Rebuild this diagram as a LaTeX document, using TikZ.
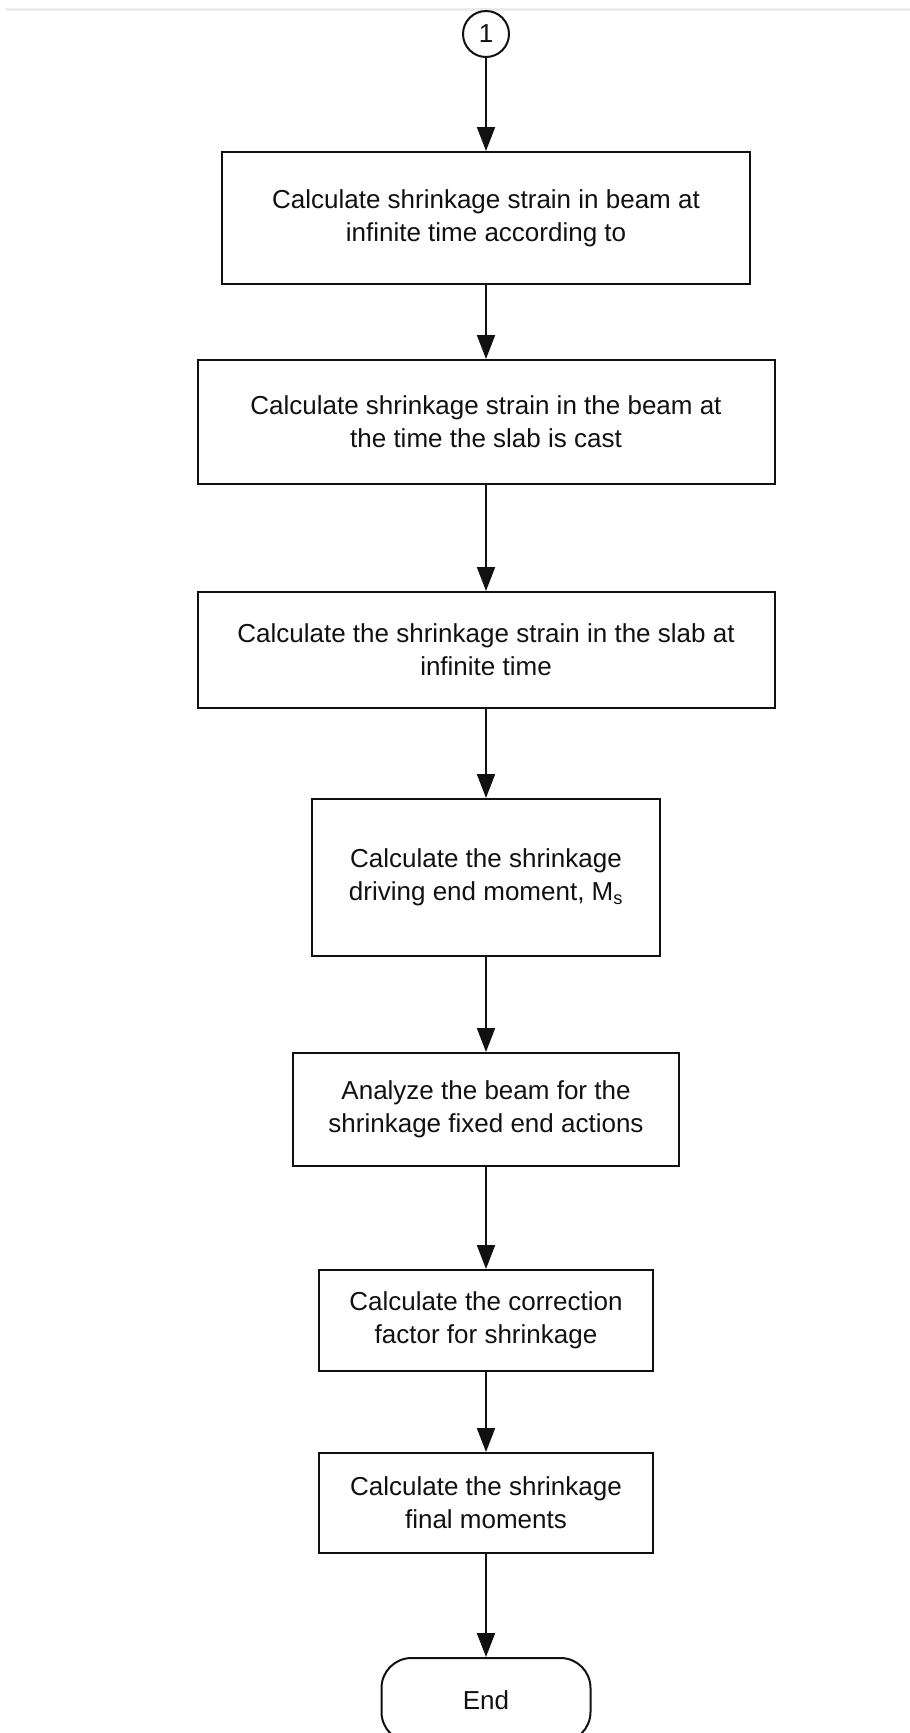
\documentclass[tikz,border=0pt]{standalone}
\usepackage{fontspec}
\setmainfont{Liberation Sans}
\usepackage{xcolor}
\usepackage{tikz}
\usetikzlibrary{arrows.meta,shapes.geometric}
\definecolor{fcInk}{HTML}{111111}
\definecolor{fcRule}{HTML}{EBEBEB}
\tikzset{
  fc diagram/.style={x=1pt, y=-1pt, font=\fontsize{26}{33}\selectfont,
    text=fcInk, line join=miter},
  fc box/.style={draw=fcInk, fill=white, line width=2pt,
    rectangle, align=center, inner sep=4pt},
  fc connector/.style={fc box, circle, minimum size=46pt, inner sep=0pt},
  fc end/.style={fc box, rounded corners=30pt},
  fc arrow/.style={-{Triangle[length=24pt, width=18pt]}, draw=fcInk,
    line width=2pt},
  fc rule/.style={draw=fcRule, line width=3pt}
}

\begin{document}
\begin{tikzpicture}[fc diagram]
\useasboundingbox (0,0) rectangle (910,1733);
\draw[fc rule] (6,9.5) -- (910,9.5);
\node[fc connector] (c1) at (486,34) {1};
\node[fc box, minimum width=528pt, minimum height=132pt] (b1) at (486,218)
  {Calculate shrinkage strain in beam at\\infinite time according to};
\node[fc box, minimum width=577pt, minimum height=124pt] (b2) at (486,422)
  {Calculate shrinkage strain in the beam at\\the time the slab is cast};
\node[fc box, minimum width=577pt, minimum height=116pt] (b3) at (486,650)
  {Calculate the shrinkage strain in the slab at\\infinite time};
\node[fc box, minimum width=348pt, minimum height=157pt] (b4) at (486,877.5)
  {Calculate the shrinkage\\driving end moment, M\textsubscript{s}};
\node[fc box, minimum width=386pt, minimum height=113pt] (b5) at (486,1109.5)
  {Analyze the beam for the\\shrinkage fixed end actions};
\node[fc box, minimum width=334pt, minimum height=101pt] (b6) at (486,1320.5)
  {Calculate the correction\\factor for shrinkage};
\node[fc box, minimum width=334pt, minimum height=100pt] (b7) at (486,1503)
  {Calculate the shrinkage\\final moments};
\node[fc end, minimum width=209pt, minimum height=84pt] (end) at (486,1700) {End};
\foreach \a/\b in {c1/b1,b1/b2,b2/b3,b3/b4,b4/b5,b5/b6,b6/b7,b7/end}
  \draw[fc arrow] (\a) -- (\b);
\end{tikzpicture}
\end{document}
